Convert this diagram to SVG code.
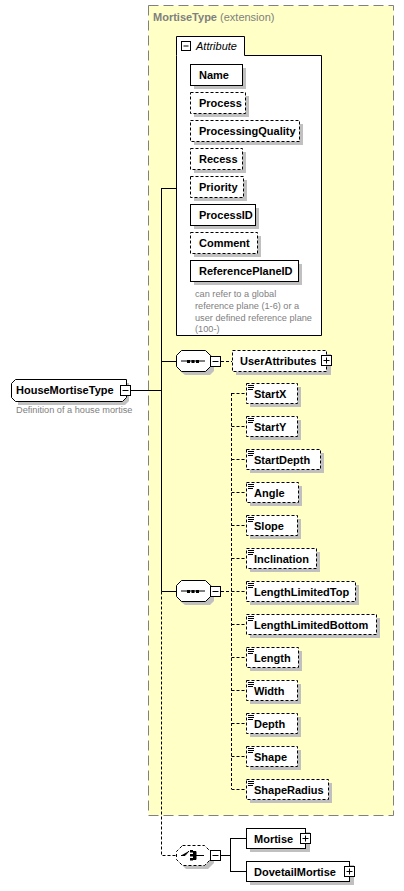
<svg xmlns="http://www.w3.org/2000/svg" width="404" height="891" viewBox="0 0 404 891">
<style>
text{font-family:"Liberation Sans",Arial,sans-serif}
.n{font-size:11px;font-weight:bold;fill:#000}
.g{font-size:9.2px;fill:#808080}
.box{fill:#fff;stroke:#000;stroke-width:1}
.d{stroke-dasharray:3,2}
.sh{fill:#c0c0c0}
.ln{stroke:#000;stroke-width:1;fill:none}
.dl{stroke:#000;stroke-width:1;fill:none;stroke-dasharray:3,2}
.pm{fill:#fff;stroke:#000;stroke-width:1}
.ic{stroke:#000;stroke-width:1}
</style>
<rect x="0" y="0" width="404" height="891" fill="#fff"/>
<g id="extension">
<rect x="148.5" y="5.5" width="245" height="810" fill="#ffffc6" stroke="#808080" stroke-dasharray="10,5"/>
<text x="153" y="21" font-size="11px" fill="#808080"><tspan font-weight="bold">MortiseType</tspan> (extension)</text>
</g>
<g id="connectors">
<path class="ln" d="M131,390.5H161.5M161.5,188V591.5M161.5,188.5H177M161.5,361.5H176M161.5,591.5H176"/>
<path class="dl" d="M161.5,591.5V855.5H176"/>
<path class="dl" d="M221,361.5H232"/>
<path class="dl" d="M221,591.5H231.5M231.5,393V789M231.5,393.5H246M231.5,426.5H246M231.5,459.5H246M231.5,492.5H246M231.5,525.5H246M231.5,558.5H246M231.5,591.5H246M231.5,624.5H246M231.5,657.5H246M231.5,690.5H246M231.5,723.5H246M231.5,756.5H246M231.5,789.5H246"/>
<path class="ln" d="M221,855.5H230.5M230.5,838V872M230.5,838.5H246M230.5,871.5H246"/>
</g>
<g id="HouseMortiseType">
<path class="sh" d="M18,383H129V401L125,405H18Z"/>
<path class="box" d="M15.5,379.5H126.5V397.5L122.5,401.5H15.5L11.5,397.5V383.5Z"/>
<text class="n" x="16" y="394" font-size="11.5px">HouseMortiseType</text>
<rect class="pm" x="120.5" y="385.5" width="10" height="10"/>
<path class="ic" d="M122.5,390.5H128.5"/>
<text class="g" x="16" y="413">Definition of a house mortise</text>
</g>
<g id="attributes">
<path class="box" d="M176.5,55.5V36.5H244.5V55.5H321.5V335.5H176.5Z"/>
<rect class="pm" x="181.5" y="41.5" width="9" height="9"/>
<path class="ic" d="M183.5,46H188.5"/>
<text x="196" y="50" font-size="11px" font-style="italic" fill="#000">Attribute</text>
</g>
<g id="attr-Name"><rect class="sh" x="194" y="68" width="52" height="21"/><rect class="box" x="190.5" y="64.5" width="52" height="21"/><text class="n" x="199" y="79">Name</text></g>
<g id="attr-Process"><rect class="sh" x="194" y="96" width="55" height="21"/><rect class="box d" x="190.5" y="92.5" width="55" height="21"/><text class="n" x="199" y="107">Process</text></g>
<g id="attr-ProcessingQuality"><rect class="sh" x="194" y="124" width="109" height="21"/><rect class="box d" x="190.5" y="120.5" width="109" height="21"/><text class="n" x="199" y="135">ProcessingQuality</text></g>
<g id="attr-Recess"><rect class="sh" x="194" y="152" width="52" height="21"/><rect class="box d" x="190.5" y="148.5" width="52" height="21"/><text class="n" x="199" y="163">Recess</text></g>
<g id="attr-Priority"><rect class="sh" x="194" y="180" width="53" height="21"/><rect class="box d" x="190.5" y="176.5" width="53" height="21"/><text class="n" x="199" y="191">Priority</text></g>
<g id="attr-ProcessID"><rect class="sh" x="194" y="208" width="65" height="21"/><rect class="box" x="190.5" y="204.5" width="65" height="21"/><text class="n" x="199" y="219">ProcessID</text></g>
<g id="attr-Comment"><rect class="sh" x="194" y="236" width="67" height="21"/><rect class="box d" x="190.5" y="232.5" width="67" height="21"/><text class="n" x="199" y="247">Comment</text></g>
<g id="attr-ReferencePlaneID"><rect class="sh" x="194" y="264" width="108" height="21"/><rect class="box" x="190.5" y="260.5" width="108" height="21"/><text class="n" x="199" y="275">ReferencePlaneID</text>
<text class="g" x="195" y="297">can refer to a global</text>
<text class="g" x="195" y="309">reference plane (1-6) or a</text>
<text class="g" x="195" y="321">user defined reference plane</text>
<text class="g" x="195" y="332">(100-)</text></g>
<g id="seq1">
<path class="sh" d="M185,354H210L214,358V371L210,375H185L180,371V358Z"/>
<path class="box" d="M181.5,350.5H205.5L210.5,355.5V366.5L205.5,371.5H181.5L176.5,366.5V355.5Z"/>
<path class="ic" d="M181,361H205"/>
<rect x="187" y="360" width="3" height="3" fill="#000"/><rect x="191.5" y="360" width="3" height="3" fill="#000"/><rect x="196" y="360" width="3" height="3" fill="#000"/>
<rect class="pm" x="210.5" y="356.5" width="10" height="10"/>
<path class="ic" d="M212.5,361.5H218.5"/>
</g>
<g id="UserAttributes">
<rect class="sh" x="236" y="354" width="95" height="21"/>
<rect class="box d" x="232.5" y="350.5" width="94" height="21"/>
<text class="n" x="240" y="365">UserAttributes</text>
<rect class="pm" x="321.5" y="355.5" width="10" height="10"/>
<path class="ic" d="M323.5,360.5H329.5M326.5,357.5V363.5"/>
</g>
<g id="seq2">
<path class="sh" d="M185,584H210L214,588V601L210,605H185L180,601V588Z"/>
<path class="box" d="M181.5,580.5H205.5L210.5,585.5V596.5L205.5,601.5H181.5L176.5,596.5V585.5Z"/>
<path class="ic" d="M181,591H205"/>
<rect x="187" y="590" width="3" height="3" fill="#000"/><rect x="191.5" y="590" width="3" height="3" fill="#000"/><rect x="196" y="590" width="3" height="3" fill="#000"/>
<rect class="pm" x="210.5" y="586.5" width="10" height="10"/>
<path class="ic" d="M212.5,591.5H218.5"/>
</g>
<defs>
<g id="ico"><path class="ic" d="M0,0.5H6M0,2.5H6M0,4.5H5"/></g>
</defs>
<g id="StartX"><rect class="sh" x="250" y="387" width="51" height="20"/><rect class="box d" x="246.5" y="383.5" width="51" height="20"/><use href="#ico" x="248" y="385"/><text class="n" x="254" y="398">StartX</text></g>
<g id="StartY"><rect class="sh" x="250" y="420" width="51" height="20"/><rect class="box d" x="246.5" y="416.5" width="51" height="20"/><use href="#ico" x="248" y="418"/><text class="n" x="254" y="431">StartY</text></g>
<g id="StartDepth"><rect class="sh" x="250" y="453" width="74" height="20"/><rect class="box d" x="246.5" y="449.5" width="74" height="20"/><use href="#ico" x="248" y="451"/><text class="n" x="254" y="464">StartDepth</text></g>
<g id="Angle"><rect class="sh" x="250" y="486" width="52" height="20"/><rect class="box d" x="246.5" y="482.5" width="52" height="20"/><use href="#ico" x="248" y="484"/><text class="n" x="254" y="497">Angle</text></g>
<g id="Slope"><rect class="sh" x="250" y="519" width="51" height="20"/><rect class="box d" x="246.5" y="515.5" width="51" height="20"/><use href="#ico" x="248" y="517"/><text class="n" x="254" y="530">Slope</text></g>
<g id="Inclination"><rect class="sh" x="250" y="552" width="70" height="20"/><rect class="box d" x="246.5" y="548.5" width="70" height="20"/><use href="#ico" x="248" y="550"/><text class="n" x="254" y="563">Inclination</text></g>
<g id="LengthLimitedTop"><rect class="sh" x="250" y="585" width="109" height="20"/><rect class="box d" x="246.5" y="581.5" width="109" height="20"/><use href="#ico" x="248" y="583"/><text class="n" x="254" y="596">LengthLimitedTop</text></g>
<g id="LengthLimitedBottom"><rect class="sh" x="250" y="618" width="130" height="20"/><rect class="box d" x="246.5" y="614.5" width="130" height="20"/><use href="#ico" x="248" y="616"/><text class="n" x="254" y="629">LengthLimitedBottom</text></g>
<g id="Length"><rect class="sh" x="250" y="651" width="52" height="20"/><rect class="box d" x="246.5" y="647.5" width="52" height="20"/><use href="#ico" x="248" y="649"/><text class="n" x="254" y="662">Length</text></g>
<g id="Width"><rect class="sh" x="250" y="684" width="51" height="20"/><rect class="box d" x="246.5" y="680.5" width="51" height="20"/><use href="#ico" x="248" y="682"/><text class="n" x="254" y="695">Width</text></g>
<g id="Depth"><rect class="sh" x="250" y="717" width="51" height="20"/><rect class="box d" x="246.5" y="713.5" width="51" height="20"/><use href="#ico" x="248" y="715"/><text class="n" x="254" y="728">Depth</text></g>
<g id="Shape"><rect class="sh" x="250" y="750" width="51" height="20"/><rect class="box d" x="246.5" y="746.5" width="51" height="20"/><use href="#ico" x="248" y="748"/><text class="n" x="254" y="761">Shape</text></g>
<g id="ShapeRadius"><rect class="sh" x="250" y="783" width="82" height="20"/><rect class="box d" x="246.5" y="779.5" width="82" height="20"/><use href="#ico" x="248" y="781"/><text class="n" x="254" y="794">ShapeRadius</text></g>
<g id="choice">
<path class="sh" d="M186,849H208L214,855V863L208,869H186L180,863V855Z"/>
<path class="box d" d="M182.5,845.5H204.5L210.5,851.5V859.5L204.5,865.5H182.5L176.5,859.5V851.5Z"/>
<path class="ic" d="M181,855.5H185L189,851"/>
<rect x="190" y="850" width="3" height="2.5" fill="#000"/><rect x="190" y="854" width="3" height="2.5" fill="#000"/><rect x="190" y="858" width="3" height="2.5" fill="#000"/>
<path class="ic" d="M193,851.5H196V859.5H193M196,855.5H204"/>
<rect class="pm" x="210.5" y="850.5" width="10" height="10"/>
<path class="ic" d="M212.5,855.5H218.5"/>
</g>
<g id="Mortise"><rect class="sh" x="250" y="832" width="60" height="20"/><rect class="box" x="246.5" y="828.5" width="59" height="20"/><text class="n" x="254" y="843">Mortise</text><rect class="pm" x="300.5" y="833.5" width="10" height="10"/><path class="ic" d="M302.5,838.5H308.5M305.5,835.5V841.5"/></g>
<g id="DovetailMortise"><rect class="sh" x="250" y="865" width="104" height="20"/><rect class="box" x="246.5" y="861.5" width="103" height="20"/><text class="n" x="254" y="876">DovetailMortise</text><rect class="pm" x="344.5" y="866.5" width="10" height="10"/><path class="ic" d="M346.5,871.5H352.5M349.5,868.5V874.5"/></g>
</svg>
